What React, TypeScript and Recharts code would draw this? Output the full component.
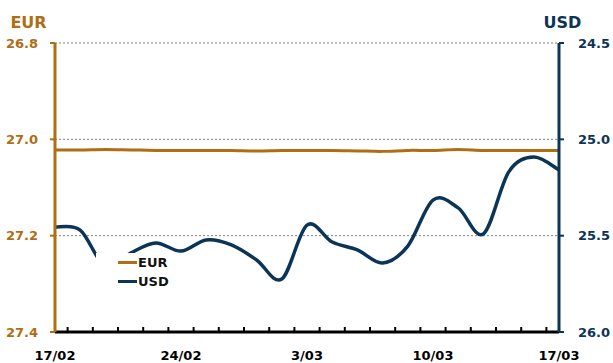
import { CartesianGrid, Legend, Line, LineChart, XAxis, YAxis } from "recharts";

const FONT = "'DejaVu Sans', Verdana, sans-serif";
const BROWN = "#b06d12";
const NAVY = "#0c3457";

// trading days on the axis
const dates = [
  "17/02", "18/02", "19/02", "20/02", "21/02",
  "24/02", "25/02", "26/02", "27/02", "28/02",
  "3/03", "4/03", "5/03", "6/03", "7/03",
  "10/03", "11/03", "12/03", "13/03", "14/03",
  "17/03",
];

const eurRates = [
  27.022, 27.022, 27.021, 27.022, 27.023, 27.023, 27.023, 27.023, 27.024, 27.023,
  27.023, 27.023, 27.024, 27.025, 27.023, 27.023, 27.021, 27.023, 27.023, 27.023,
  27.023,
];

const usdRates = [
  25.455, 25.471, 25.66, 25.59, 25.538, 25.58, 25.522, 25.548, 25.626, 25.725,
  25.445, 25.533, 25.574, 25.642, 25.554, 25.315, 25.356, 25.491, 25.17, 25.092,
  25.159,
];

const labelDays = [0, 5, 10, 15, 20];
const minorTicks = [
  0.5, 1.5, 2.5, 3.5, 4.5, 5.5, 6.5, 7.5, 8.5, 9.5,
  10.5, 11.5, 12.5, 13.5, 14.5, 15.5, 16.5, 17.5, 18.5, 19.5,
];
const eurTicks = [26.8, 27.0, 27.2, 27.4];
const usdTicks = [24.5, 25.0, 25.5, 26.0];

const rows = dates.map((d, i) => ({ idx: i, date: d, EUR: eurRates[i], USD: usdRates[i] }));

// Catmull-Rom style smoothing, like spreadsheet "smoothed line"
function smoothCurve(context: any) {
  let pts: [number, number][] = [];
  return {
    areaStart() {},
    areaEnd() {},
    lineStart() {
      pts = [];
    },
    lineEnd() {
      if (!pts.length) return;
      context.moveTo(pts[0][0], pts[0][1]);
      for (let i = 0; i < pts.length - 1; i++) {
        const p0 = pts[Math.max(i - 1, 0)];
        const p1 = pts[i];
        const p2 = pts[i + 1];
        const p3 = pts[Math.min(i + 2, pts.length - 1)];
        context.bezierCurveTo(
          p1[0] + (p2[0] - p0[0]) / 6,
          p1[1] + (p2[1] - p0[1]) / 6,
          p2[0] - (p3[0] - p1[0]) / 6,
          p2[1] - (p3[1] - p1[1]) / 6,
          p2[0],
          p2[1]
        );
      }
    },
    point(x: number, y: number) {
      pts.push([x, y]);
    },
  };
}

function AxisTitle({ viewBox, value, fill, shift }: any) {
  if (!viewBox) return null;
  return (
    <text
      x={viewBox.x + shift}
      y={28}
      textAnchor="middle"
      fill={fill}
      fontSize={16}
      fontWeight={700}
      fontFamily={FONT}
    >
      {value}
    </text>
  );
}

function SeriesKey({ payload }: any) {
  return (
    <div
      style={{
        background: "#fff",
        padding: "0 14px 4px 22px",
        fontFamily: FONT,
        fontWeight: 700,
        fontSize: 13,
        color: "#111",
      }}
    >
      {(payload || []).map((p: any) => (
        <div key={p.value} style={{ display: "flex", alignItems: "center", height: 19 }}>
          <span style={{ width: 19, height: 3, background: p.color, marginRight: 1 }} />
          {p.value}
        </div>
      ))}
    </div>
  );
}

const tickFont = { fontSize: 13, fontWeight: 700, fontFamily: FONT };

export default function App() {
  return (
    <div style={{ position: "absolute", left: 0, top: 0 }}>
      <LineChart width={613} height={363} data={rows} margin={{ top: 43, right: 0, bottom: 1, left: 0 }}>
        <CartesianGrid
          yAxisId="eur"
          vertical={false}
          stroke="#808080"
          strokeDasharray="2 2"
        />
        {/* small inward ticks between trading days, sitting on the plot's bottom edge */}
        <XAxis
          xAxisId={0}
          dataKey="idx"
          type="number"
          domain={[0, 20]}
          ticks={minorTicks}
          interval={0}
          height={1}
          mirror
          axisLine={false}
          tickSize={5}
          tickLine={{ stroke: "#000", strokeWidth: 2 }}
          tickFormatter={() => ""}
        />
        <XAxis
          xAxisId="labels"
          dataKey="idx"
          type="number"
          domain={[0, 20]}
          ticks={labelDays}
          tickFormatter={(v: number) => dates[v]}
          interval={0}
          height={30}
          tickLine={false}
          tickSize={6}
          tickMargin={13}
          axisLine={{ stroke: "#000", strokeWidth: 3 }}
          tick={{ ...tickFont, fill: "#000" }}
        />
        <YAxis
          yAxisId="eur"
          orientation="left"
          width={55}
          reversed
          domain={[26.8, 27.4]}
          ticks={eurTicks}
          interval={0}
          allowDataOverflow
          tickFormatter={(v: number) => v.toFixed(1)}
          tickSize={5}
          tickMargin={12}
          axisLine={{ stroke: BROWN, strokeWidth: 3 }}
          tickLine={{ stroke: BROWN, strokeWidth: 2 }}
          tick={{ ...tickFont, fill: BROWN }}
          label={{
            value: "EUR",
            content: (p: any) => <AxisTitle {...p} value="EUR" fill={BROWN} shift={28.5} />,
          }}
        />
        <YAxis
          yAxisId="usd"
          orientation="right"
          width={54}
          reversed
          domain={[24.5, 26]}
          ticks={usdTicks}
          interval={0}
          allowDataOverflow
          tickFormatter={(v: number) => v.toFixed(1)}
          tickSize={5}
          tickMargin={14}
          axisLine={{ stroke: NAVY, strokeWidth: 3 }}
          tickLine={{ stroke: NAVY, strokeWidth: 2 }}
          tick={{ ...tickFont, fill: NAVY }}
          label={{
            value: "USD",
            content: (p: any) => <AxisTitle {...p} value="USD" fill={NAVY} shift={3.5} />,
          }}
        />
        <Line
          yAxisId="eur"
          dataKey="EUR"
          type={smoothCurve as any}
          stroke={BROWN}
          strokeWidth={3}
          dot={false}
          activeDot={false}
          isAnimationActive={false}
        />
        <Line
          yAxisId="usd"
          dataKey="USD"
          type={smoothCurve as any}
          stroke={NAVY}
          strokeWidth={3.5}
          dot={false}
          activeDot={false}
          isAnimationActive={false}
        />
        <Legend
          layout="vertical"
          align="center"
          verticalAlign="middle"
          wrapperStyle={{ left: 96, top: 253, width: "auto" }}
          content={<SeriesKey />}
        />
      </LineChart>
    </div>
  );
}
